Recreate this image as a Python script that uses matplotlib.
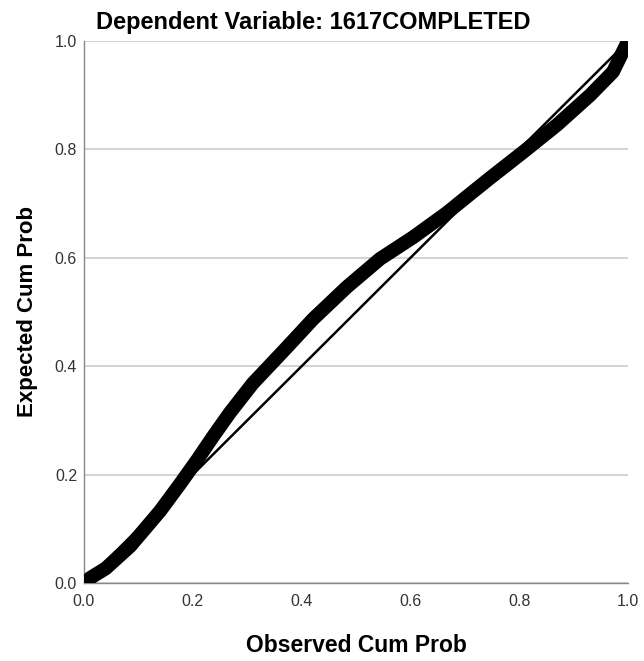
import matplotlib.pyplot as plt
import numpy as np

plt.rcParams['font.family'] = ['Liberation Sans', 'DejaVu Sans']

# observed vs expected cumulative probability (P-P plot of residuals)
observed = [0.0, 0.011, 0.04, 0.085, 0.14, 0.176, 0.208, 0.237, 0.268, 0.31,
            0.373, 0.421, 0.483, 0.544, 0.605, 0.667, 0.715, 0.746, 0.807,
            0.869, 0.93, 0.972, 0.995, 1.0]
expected = [0.0, 0.009, 0.027, 0.068, 0.133, 0.182, 0.227, 0.27, 0.314, 0.368,
            0.435, 0.487, 0.546, 0.598, 0.638, 0.683, 0.722, 0.747, 0.795,
            0.845, 0.90, 0.943, 0.99, 1.0]
ticks = [0.0, 0.2, 0.4, 0.6, 0.8, 1.0]

fig = plt.figure(figsize=(6.44, 6.61), dpi=100)
ax = fig.add_axes([0.1304, 0.118, 0.845, 0.820])

ax.plot([0, 1], [0, 1], color='black', lw=1.8, zorder=3)
ax.plot(observed, expected, color='black', lw=10, solid_capstyle='round',
        solid_joinstyle='round', zorder=4)

ax.set_xlim(0, 1)
ax.set_ylim(0, 1)
ax.set_xticks(ticks)
ax.set_yticks(ticks)
ax.set_xticklabels([f'{t:.1f}' for t in ticks])
ax.set_yticklabels([f'{t:.1f}' for t in ticks])
ax.tick_params(length=0, labelsize=11.5, colors='#333333')
ax.tick_params(axis='x', pad=8)
ax.tick_params(axis='y', pad=5)
ax.yaxis.grid(True, color='#cccccc', lw=1.2)
ax.set_axisbelow(True)

for side in ['top', 'right']:
    ax.spines[side].set_visible(False)
for side in ['left', 'bottom']:
    ax.spines[side].set_color('#888888')
    ax.spines[side].set_linewidth(1.0)

# title centred over the whole chart area, not just the axes
fig.text(0.486, 0.966, 'Dependent Variable: 1617COMPLETED', fontsize=17,
         fontweight='bold', ha='center', va='center')
ax.set_xlabel('Observed Cum Prob', fontsize=16.5, fontweight='bold', labelpad=18)
ax.set_ylabel('Expected Cum Prob', fontsize=16, fontweight='bold', labelpad=12)

fig.savefig('out.png', dpi=100)
